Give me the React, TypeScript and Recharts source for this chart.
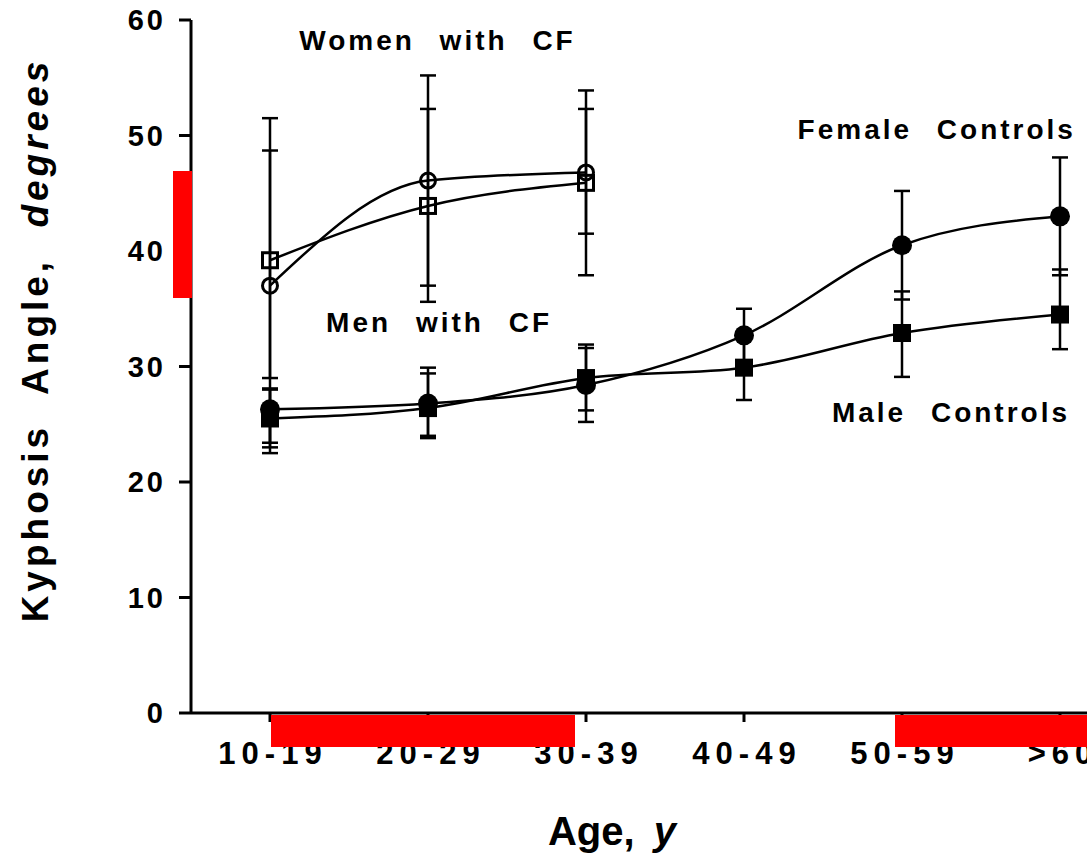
import React from 'react';
import { LineChart, Line, XAxis, YAxis, ErrorBar, ReferenceDot, Label } from 'recharts';

// ---- data ----
const categories = ['10-19', '20-29', '30-39', '40-49', '50-59', '>60'];
const yTicks = [0, 10, 20, 30, 40, 50, 60];

const womenCF = [37.0, 46.1, 46.8];
const womenCFLow = [22.5, 37.0, 37.9];
const womenCFHigh = [51.5, 55.2, 53.9];

const menCF = [39.2, 43.9, 45.9];
const menCFLow = [29.0, 35.6, 41.5];
const menCFHigh = [48.7, 52.3, 52.3];

const femaleCtrl = [26.3, 26.8, 28.4, 32.7, 40.5, 43.0];
const femaleCtrlLow = [23.4, 23.8, 25.2, 30.5, 35.8, 37.9];
const femaleCtrlHigh = [28.1, 29.9, 31.9, 35.0, 45.2, 48.1];

const maleCtrl = [25.5, 26.4, 29.0, 29.9, 32.9, 34.5];
const maleCtrlLow = [23.0, 24.0, 26.2, 27.1, 29.1, 31.5];
const maleCtrlHigh = [28.0, 29.4, 31.6, 32.6, 36.5, 38.4];

const seriesLabels = [
  { text: 'Women with CF', x: 1.06, y: 58.3 },
  { text: 'Men with CF', x: 1.07, y: 33.9 },
  { text: 'Female Controls', x: 4.22, y: 50.6 },
  { text: 'Male Controls', x: 4.31, y: 26.1 },
];

const build = (vals: number[], low: number[], high: number[]) =>
  vals.map((v, i) => ({ x: i, y: v, err: [v - low[i], high[i] - v] }));

const womenData = build(womenCF, womenCFLow, womenCFHigh);
const menData = build(menCF, menCFLow, menCFHigh);
const femaleData = build(femaleCtrl, femaleCtrlLow, femaleCtrlHigh);
const maleData = build(maleCtrl, maleCtrlLow, maleCtrlHigh);

const FONT = '"Liberation Sans", Arial, Helvetica, sans-serif';

const OpenCircle = (p: any) =>
  p.cx == null ? null : (
    <circle key={`oc${p.index}`} cx={p.cx} cy={p.cy} r={7.5} fill="none" stroke="#000" strokeWidth={3} />
  );
const OpenSquare = (p: any) =>
  p.cx == null ? null : (
    <rect key={`os${p.index}`} x={p.cx - 7.5} y={p.cy - 7.5} width={15} height={15} fill="none" stroke="#000" strokeWidth={3} />
  );
const FilledCircle = (p: any) =>
  p.cx == null ? null : <circle key={`fc${p.index}`} cx={p.cx} cy={p.cy} r={10} fill="#000" stroke="none" />;
const FilledSquare = (p: any) =>
  p.cx == null ? null : (
    <rect key={`fs${p.index}`} x={p.cx - 9} y={p.cy - 9} width={18} height={18} fill="#000" stroke="none" />
  );

const XTick = (p: any) => {
  const ls = 6;
  return (
    <text
      x={p.x + ls / 2}
      y={p.y}
      dy="0.72em"
      textAnchor="middle"
      fontFamily={FONT}
      fontWeight={700}
      fontSize={31}
      letterSpacing={ls}
      fill="#000"
    >
      {categories[p.payload.value]}
    </text>
  );
};

const YTick = (p: any) => (
  <text
    x={p.x}
    y={p.y}
    dy="0.36em"
    textAnchor="end"
    fontFamily={FONT}
    fontWeight={700}
    fontSize={29}
    letterSpacing={3}
    fill="#000"
  >
    {p.payload.value}
  </text>
);

const SeriesLabel = (text: string) => (p: any) =>
  (
    <text
      x={p.cx}
      y={p.cy}
      dy="0.36em"
      textAnchor="middle"
      fontFamily={FONT}
      fontWeight={700}
      fontSize={28}
      letterSpacing={3}
      wordSpacing={14}
      fill="#000"
    >
      {text}
    </text>
  );

const overlays = [
  { left: 173, top: 171, width: 19, height: 127 },
  { left: 271, top: 715, width: 304, height: 32 },
  { left: 895, top: 715, width: 192, height: 32 },
];

export default function App() {
  return (
    <div
      style={{
        position: 'absolute',
        left: 0,
        top: 0,
        width: 1087,
        height: 856,
        overflow: 'hidden',
        background: '#fff',
      }}
    >
      <LineChart width={1200} height={856} margin={{ top: 20, right: 61, left: 0, bottom: 0 }}>
        <XAxis
          type="number"
          dataKey="x"
          domain={[-0.5, 5.5]}
          ticks={[0, 1, 2, 3, 4, 5]}
          allowDataOverflow
          height={143}
          axisLine={{ stroke: '#000', strokeWidth: 3 }}
          tickLine={{ stroke: '#000', strokeWidth: 3 }}
          tickSize={9}
          tickMargin={20}
          tick={<XTick />}
        >
          <Label
            content={() => (
              <text x={612} y={845} textAnchor="middle" fontFamily={FONT} fontWeight={700} fontSize={40} fill="#000">
                Age,{' '}
                <tspan fontStyle="italic" dx={8}>
                  y
                </tspan>
              </text>
            )}
          />
        </XAxis>
        <YAxis
          type="number"
          domain={[0, 60]}
          ticks={yTicks}
          width={191}
          axisLine={{ stroke: '#000', strokeWidth: 3 }}
          tickLine={{ stroke: '#000', strokeWidth: 3 }}
          tickSize={12}
          tickMargin={13}
          tick={<YTick />}
        >
          <Label
            content={() => (
              <text
                x={48}
                y={340}
                transform="rotate(-90 48 340)"
                textAnchor="middle"
                fontFamily={FONT}
                fontWeight={700}
                fontSize={37}
                letterSpacing={4}
                wordSpacing={16}
                fill="#000"
              >
                Kyphosis Angle,{' '}
                <tspan fontStyle="italic">degrees</tspan>
              </text>
            )}
          />
        </YAxis>

        <Line
          data={maleData}
          dataKey="y"
          type="monotone"
          stroke="#000"
          strokeWidth={2.5}
          dot={FilledSquare}
          activeDot={false}
          isAnimationActive={false}
        >
          <ErrorBar dataKey="err" direction="y" width={8} stroke="#000" strokeWidth={2.5} isAnimationActive={false} />
        </Line>
        <Line
          data={femaleData}
          dataKey="y"
          type="monotone"
          stroke="#000"
          strokeWidth={2.5}
          dot={FilledCircle}
          activeDot={false}
          isAnimationActive={false}
        >
          <ErrorBar dataKey="err" direction="y" width={8} stroke="#000" strokeWidth={2.5} isAnimationActive={false} />
        </Line>
        <Line
          data={menData}
          dataKey="y"
          type="monotone"
          stroke="#000"
          strokeWidth={2.5}
          dot={OpenSquare}
          activeDot={false}
          isAnimationActive={false}
        >
          <ErrorBar dataKey="err" direction="y" width={8} stroke="#000" strokeWidth={2.5} isAnimationActive={false} />
        </Line>
        <Line
          data={womenData}
          dataKey="y"
          type="monotone"
          stroke="#000"
          strokeWidth={2.5}
          dot={OpenCircle}
          activeDot={false}
          isAnimationActive={false}
        >
          <ErrorBar dataKey="err" direction="y" width={8} stroke="#000" strokeWidth={2.5} isAnimationActive={false} />
        </Line>

        {seriesLabels.map((l) => (
          <ReferenceDot key={l.text} x={l.x} y={l.y} r={0} shape={SeriesLabel(l.text)} ifOverflow="visible" />
        ))}
      </LineChart>
      {overlays.map((o, i) => (
        <div key={i} style={{ position: 'absolute', background: '#ff0000', ...o }} />
      ))}
    </div>
  );
}
